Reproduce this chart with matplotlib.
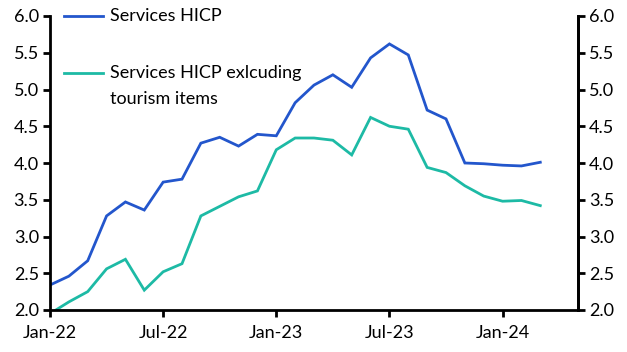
import matplotlib
matplotlib.use("Agg")
import matplotlib.pyplot as plt
import numpy as np

plt.rcParams['font.family'] = ['Lato', 'DejaVu Sans']

months = ["Jan-22","Feb-22","Mar-22","Apr-22","May-22","Jun-22","Jul-22","Aug-22","Sep-22","Oct-22","Nov-22","Dec-22",
          "Jan-23","Feb-23","Mar-23","Apr-23","May-23","Jun-23","Jul-23","Aug-23","Sep-23","Oct-23","Nov-23","Dec-23",
          "Jan-24","Feb-24","Mar-24"]
services_hicp = [2.34, 2.46, 2.67, 3.28, 3.47, 3.36, 3.74, 3.78, 4.27, 4.35, 4.23, 4.39,
                 4.37, 4.82, 5.06, 5.20, 5.03, 5.43, 5.62, 5.47, 4.72, 4.60, 4.00, 3.99,
                 3.97, 3.96, 4.01]
services_ex_tourism = [1.95, 2.11, 2.25, 2.56, 2.69, 2.27, 2.52, 2.63, 3.28, 3.41, 3.54, 3.62,
                       4.18, 4.34, 4.34, 4.31, 4.11, 4.62, 4.50, 4.46, 3.94, 3.87, 3.69, 3.55,
                       3.48, 3.49, 3.42]
tick_labels = ["Jan-22", "Jul-22", "Jan-23", "Jul-23", "Jan-24"]
tick_pos = [0, 6, 12, 18, 24]
yticks = [2.0, 2.5, 3.0, 3.5, 4.0, 4.5, 5.0, 5.5, 6.0]

blue = "#2356cc"
teal = "#1dbaa5"
fs = 13

fig = plt.figure(figsize=(6.27, 3.52), dpi=100)
ax = fig.add_axes([50/627, 1-310/352, 528/627, 294/352])
x = np.arange(len(months))
ax.plot(x, services_hicp, color=blue, lw=2.0, solid_joinstyle='miter')
ax.plot(x, services_ex_tourism, color=teal, lw=2.0, solid_joinstyle='miter')
ax.set_xlim(0, 28)
ax.set_ylim(2.0, 6.0)
ax.set_yticks(yticks)
ax.set_yticklabels([f"{v:.1f}" for v in yticks])
ax.set_xticks(tick_pos)
ax.set_xticklabels(tick_labels)
ax.spines['top'].set_visible(False)
for s in ['left', 'right', 'bottom']:
    ax.spines[s].set_linewidth(2.0)
    ax.spines[s].set_color('black')
ax.tick_params(axis='both', direction='out', length=5, width=2, labelsize=fs, colors='black', pad=3)
ax.tick_params(axis='x', pad=6)

ax2 = ax.twinx()
ax2.set_ylim(2.0, 6.0)
ax2.set_yticks(yticks)
ax2.set_yticklabels([f"{v:.1f}" for v in yticks])
ax2.spines['top'].set_visible(False)
ax2.spines['left'].set_visible(False)
ax2.spines['bottom'].set_visible(False)
ax2.spines['right'].set_linewidth(2.0)
ax2.tick_params(axis='y', direction='out', length=5, width=2, labelsize=fs, colors='black', pad=3)

# legend (manual, axes fraction)
def px(xp, yp):
    return ((xp - 50) / 528, (310 - yp) / 294)
legend_items = [(16, blue, ["Services HICP"]),
                (73, teal, ["Services HICP exlcuding", "tourism items"])]
for (y0, col, lines) in legend_items:
    x0, yy = px(64, y0)
    x1, _ = px(103, y0)
    ax.plot([x0, x1], [yy, yy], transform=ax.transAxes, color=col, lw=2.0, clip_on=False)
    tx, _ = px(110, y0)
    for i, ln in enumerate(lines):
        _, ty = px(110, y0 + 26 * i)
        ax.text(tx, ty, ln, transform=ax.transAxes, fontsize=fs, va='center', ha='left')

fig.savefig("out.png", dpi=100)
